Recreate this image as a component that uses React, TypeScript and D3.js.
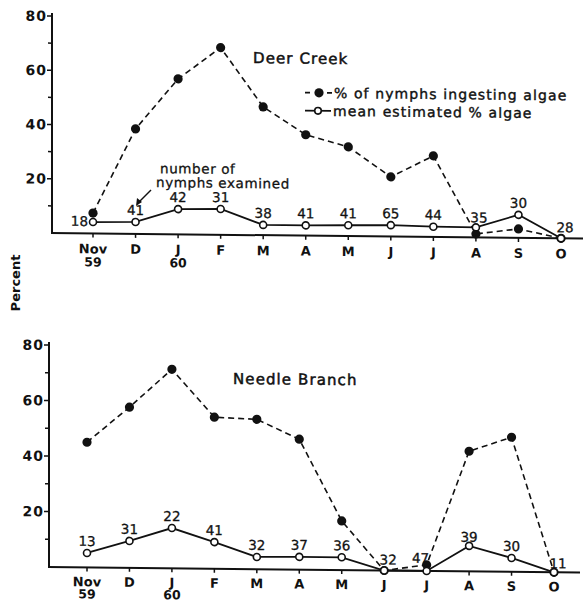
import React from "react";
import * as d3 from "d3";

const months = ["Nov", "D", "J", "F", "M", "A", "M", "J", "J", "A", "S", "O"];
const yearLabels = ["59", "", "60", "", "", "", "", "", "", "", "", ""];
const yTicks = [20, 40, 60, 80];
const yMinorTicks = [10, 30, 50, 70];

const deerIngesting = [7.5, 38.7, 57.3, 69, 47.3, 37.2, 32.9, 22, 29.9, 1.3, 3.3, 0];
const deerMeanAlgae = [4.2, 4.4, 9.3, 9.5, 3.8, 3.8, 4, 4.2, 3.8, 3.7, 8.5, 0];
const deerCounts = ["18", "41", "42", "31", "38", "41", "41", "65", "44", "35", "30", "28"];

const needleIngesting = [45.1, 57.9, 71.7, 54.6, 54, 47, 17.7, 0, 2.2, 43.3, 48.5, 0];
const needleMeanAlgae = [5.2, 9.7, 14.5, 9.6, 4.4, 4.6, 4.6, 0, 0, 9.2, 5, 0];
const needleCounts = ["13", "31", "22", "41", "32", "37", "36", "32", "47", "39", "30", "11"];

const FONT = "'DejaVu Sans', sans-serif";
const INK = "#111";

type Nudge = { dx?: number; dy?: number; anchor?: string };

type PanelProps = {
  axisX: number;
  y0: number;
  y80: number;
  xFirst: number;
  xLast: number;
  axisEnd: number;
  title: string;
  titleX: number;
  titleY: number;
  monthDy: number;
  yearDy: number;
  ingesting: number[];
  meanAlgae: number[];
  counts: string[];
  nudges: Record<number, Nudge>;
  children?: React.ReactNode;
};

function Panel(p: PanelProps) {
  const x = d3.scaleLinear().domain([0, months.length - 1]).range([p.xFirst, p.xLast]);
  const y = d3.scaleLinear().domain([0, 80]).range([p.y0, p.y80]);
  const line = d3
    .line<number>()
    .x((_, i) => x(i))
    .y((d) => y(d));
  const skew = `translate(${p.axisX},${p.y0}) skewY(0.6) translate(${-p.axisX},${-p.y0})`;
  return (
    <g transform={skew}>
      <line x1={p.axisX} x2={p.axisX} y1={y(0) + 1} y2={y(80) - 3} stroke={INK} strokeWidth={2} />
      <line x1={p.axisX - 1} x2={p.axisEnd} y1={y(0)} y2={y(0)} stroke={INK} strokeWidth={2} />
      {yTicks.map((t) => (
        <g key={"t" + t}>
          <line x1={p.axisX - 5} x2={p.axisX} y1={y(t)} y2={y(t)} stroke={INK} strokeWidth={1.5} />
          <text
            x={p.axisX - 5}
            y={y(t) + 5}
            textAnchor="end"
            fontFamily={FONT}
            fontSize={14}
            fontWeight={600}
            letterSpacing={1}
            fill={INK}
          >
            {t}
          </text>
        </g>
      ))}
      {yMinorTicks.map((t) => (
        <line key={"m" + t} x1={p.axisX - 4} x2={p.axisX} y1={y(t)} y2={y(t)} stroke={INK} strokeWidth={1.5} />
      ))}
      {months.map((m, i) => (
        <g key={"x" + i}>
          <line x1={x(i)} x2={x(i)} y1={y(0)} y2={y(0) + 4} stroke={INK} strokeWidth={1.5} />
          <text x={x(i)} y={y(0) + p.monthDy} textAnchor="middle" fontFamily={FONT} fontSize={13} fontWeight={600} fill={INK}>
            {m}
          </text>
          {yearLabels[i] && (
            <text
              x={x(i)}
              y={y(0) + p.yearDy}
              textAnchor="middle"
              fontFamily={FONT}
              fontSize={12.5}
              fontWeight={600}
              fill={INK}
            >
              {yearLabels[i]}
            </text>
          )}
        </g>
      ))}
      <path d={line(p.ingesting) || ""} fill="none" stroke={INK} strokeWidth={1.6} strokeDasharray="6,4" />
      <path d={line(p.meanAlgae) || ""} fill="none" stroke={INK} strokeWidth={1.8} />
      {p.ingesting.map((v, i) => (
        <circle key={"f" + i} cx={x(i)} cy={y(v)} r={4.6} fill={INK} />
      ))}
      {p.meanAlgae.map((v, i) => (
        <circle key={"o" + i} cx={x(i)} cy={y(v)} r={3.5} fill="white" stroke={INK} strokeWidth={1.6} />
      ))}
      {p.counts.map((c, i) => {
        const n = p.nudges[i] || {};
        return (
          <text
            key={"c" + i}
            x={x(i) + (n.dx || 0)}
            y={y(p.meanAlgae[i]) - 7 + (n.dy || 0)}
            textAnchor={n.anchor || "middle"}
            fontFamily={FONT}
            fontSize={13.5}
            fontWeight={500}
            stroke={INK}
            strokeWidth={0.3}
            fill={INK}
          >
            {c}
          </text>
        );
      })}
      <text
        x={p.titleX}
        y={p.titleY}
        fontFamily={FONT}
        fontSize={15}
        letterSpacing={1.1}
        stroke={INK}
        strokeWidth={0.5}
        fill={INK}
      >
        {p.title}
      </text>
      {p.children}
    </g>
  );
}

export default function App() {
  return (
    <svg
      width={583}
      height={600}
      viewBox="0 0 583 600"
      style={{ position: "absolute", left: 0, top: 0, background: "white" }}
    >
      <rect width={583} height={600} fill="white" />
      <Panel
        axisX={52}
        y0={233}
        y80={16}
        xFirst={93}
        xLast={561}
        axisEnd={583}
        title="Deer Creek"
        titleX={253}
        titleY={61}
        monthDy={20}
        yearDy={33}
        ingesting={deerIngesting}
        meanAlgae={deerMeanAlgae}
        counts={deerCounts}
        nudges={{ 0: { dx: -5, dy: 11, anchor: "end" }, 9: { dx: 3, dy: 2 }, 11: { dx: 4, dy: 1 } }}
      >
        <text x={160} y={172} fontFamily={FONT} fontSize={13.5} letterSpacing={0.6} stroke={INK} strokeWidth={0.3} fill={INK}>
          number of
        </text>
        <text x={156} y={186} fontFamily={FONT} fontSize={13.5} letterSpacing={0.6} stroke={INK} strokeWidth={0.3} fill={INK}>
          nymphs examined
        </text>
        <line x1={151} y1={189} x2={139} y2={201} stroke={INK} strokeWidth={1.5} />
        <path d="M136,205 L137,197 L142,201 Z" fill={INK} />
        <line x1={305} x2={310} y1={90} y2={90} stroke={INK} strokeWidth={1.8} />
        <circle cx={319} cy={90} r={4.6} fill={INK} />
        <line x1={327} x2={332} y1={90} y2={90} stroke={INK} strokeWidth={1.8} />
        <text x={334} y={95} fontFamily={FONT} fontSize={14} letterSpacing={1.1} stroke={INK} strokeWidth={0.4} fill={INK}>
          % of nymphs ingesting algae
        </text>
        <line x1={305} x2={331} y1={108} y2={108} stroke={INK} strokeWidth={1.8} />
        <circle cx={318} cy={108} r={3.3} fill="white" stroke={INK} strokeWidth={1.6} />
        <text x={333} y={113} fontFamily={FONT} fontSize={14} letterSpacing={1.1} stroke={INK} strokeWidth={0.4} fill={INK}>
          mean estimated % algae
        </text>
      </Panel>
      <Panel
        axisX={49}
        y0={567}
        y80={345}
        xFirst={87}
        xLast={554}
        axisEnd={580}
        title="Needle Branch"
        titleX={233}
        titleY={382}
        monthDy={19}
        yearDy={31}
        ingesting={needleIngesting}
        meanAlgae={needleMeanAlgae}
        counts={needleCounts}
        nudges={{ 7: { dx: 4, dy: 1 }, 8: { dx: -6, dy: -1 }, 9: { dy: 3 }, 11: { dx: 4, dy: 3 } }}
      />
      <text
        transform="translate(20,283) rotate(-90)"
        textAnchor="middle"
        fontFamily={FONT}
        fontSize={13}
        fontWeight={600}
        fill={INK}
      >
        Percent
      </text>
    </svg>
  );
}
